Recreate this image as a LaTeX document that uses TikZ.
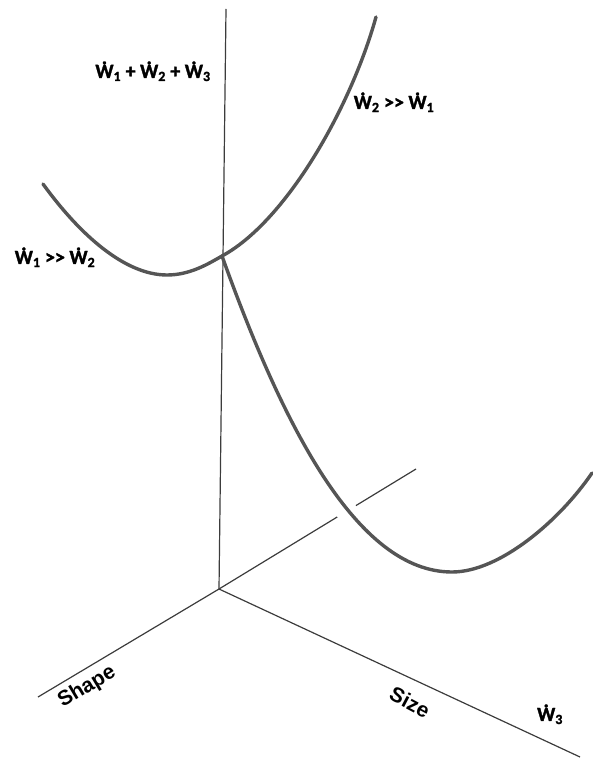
\documentclass[tikz,border=0pt]{standalone}
\usepackage{fontspec}
\usetikzlibrary{calc}
\setmainfont{Carlito}
\newfontfamily\wfont{Carlito}[FakeBold=1.6]
\newfontfamily\arialfont{Liberation Sans}[BoldFont={Liberation Sans Bold}]
\definecolor{axisgray}{RGB}{60,60,60}
\definecolor{curvegray}{RGB}{85,85,85}
\newcommand\dotW{\ooalign{W\cr\hidewidth\raisebox{0.68em}{.}\hidewidth}}
\newcommand\muchgt{>\kern0pt>}

\begin{document}
\begin{tikzpicture}[x=1pt, y=-1pt,
    axis/.style={draw=axisgray, line width=1.2pt},
    curve/.style={draw=curvegray, line width=3.4pt, line cap=round},
    wlabel/.style={font=\wfont\bfseries\fontsize{20}{24}\selectfont, inner sep=0pt},
    axislabel/.style={font=\arialfont\bfseries\fontsize{21}{25}\selectfont, inner sep=0pt}]

\useasboundingbox (0,0) rectangle (593,759);

% axes
\coordinate (origin) at (219,589);
\coordinate (vtop) at (226,9);
\coordinate (shapeend) at (38,697);
\coordinate (sizeend) at (580,757);
\coordinate (backend) at (416,469);

\draw [axis] (origin) -- (vtop);
\draw [axis] (origin) -- (shapeend);
\draw [axis] (origin) -- (sizeend);
\draw [axis] (origin) -- ($(origin)!0.60!(backend)$);
\draw [axis] ($(origin)!0.695!(backend)$) -- (backend);

% curves
\coordinate (cross) at (222,256);
\coordinate (leftstart) at (43,184);
\coordinate (leftmin) at (167,275);
\coordinate (uptop) at (376,17);
\coordinate (lowmin) at (452,572);
\coordinate (lowend) at (592,473);

\draw [curve] (leftstart) .. controls (80,235) and (125,275) .. (leftmin)
    .. controls (190,275) and (208,264) .. (cross)
    .. controls (285,222) and (350,110) .. (uptop);
\draw [curve] (cross) .. controls (283,426) and (357,572) .. (lowmin)
    .. controls (500,572) and (560,520) .. (lowend);

% labels
\node [wlabel] (wsum) at (153,73) {\dotW\textsubscript{1} + \dotW\textsubscript{2} + \dotW\textsubscript{3}};
\node [wlabel] (wtwo) at (394,104) {\dotW\textsubscript{2} \muchgt{} \dotW\textsubscript{1}};
\node [wlabel] (wone) at (55,259) {\dotW\textsubscript{1} \muchgt{} \dotW\textsubscript{2}};
\node [wlabel] (wthree) at (550,716) {\dotW\textsubscript{3}};
\node [axislabel, rotate=31] (shape) at (87,687) {Shape};
\node [axislabel, rotate=-28] (size) at (410,702) {Size};

\end{tikzpicture}
\end{document}
